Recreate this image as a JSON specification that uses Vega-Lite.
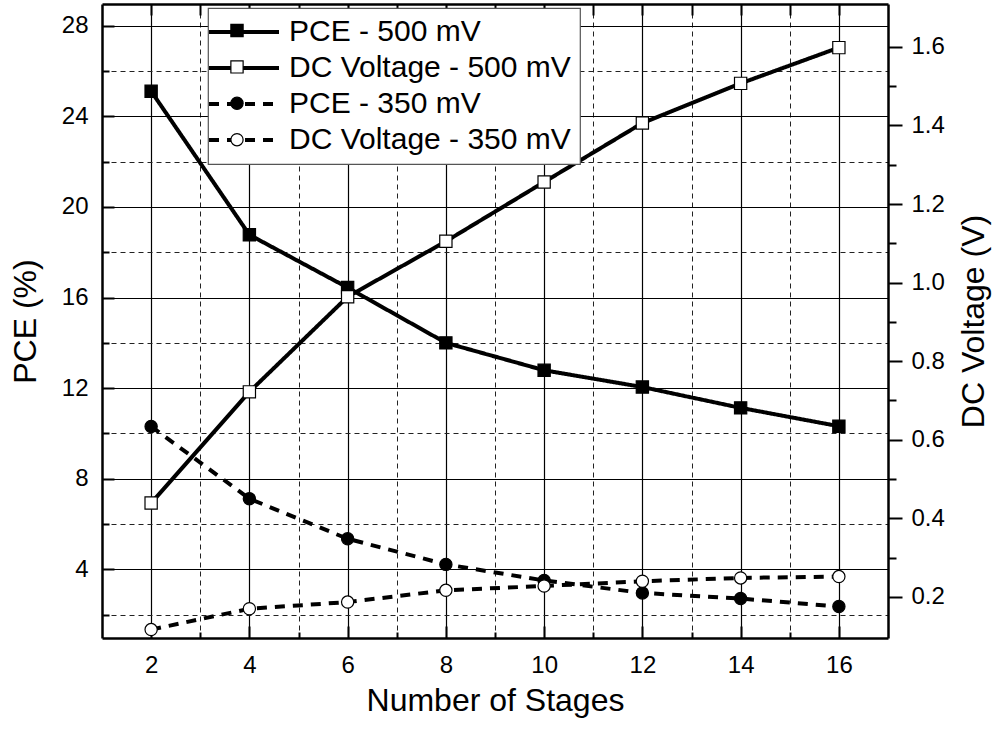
{
  "$schema": "https://vega.github.io/schema/vega-lite/v6.json",
  "width": 786,
  "height": 634,
  "autosize": {"type": "none"},
  "padding": {"left": 102, "top": 4, "right": 107, "bottom": 96},
  "background": "white",
  "config": {
    "view": {"stroke": null},
    "font": "Liberation Sans",
    "axis": {
      "labelFont": "Liberation Sans",
      "labelFontSize": 24,
      "labelColor": "black",
      "titleFont": "Liberation Sans",
      "titleFontSize": 32,
      "titleFontWeight": "normal",
      "titleColor": "black",
      "tickColor": "black",
      "domainColor": "black",
      "domainWidth": 2.5,
      "tickWidth": 2,
      "gridColor": "black",
      "gridWidth": 1.2,
      "gridOpacity": 1
    },
    "legend": {"strokeWidth": 1.2}
  },
  "datasets": {
    "pce": [
      {"stage": 2, "series": "PCE - 500 mV", "pce": 25.11},
      {"stage": 4, "series": "PCE - 500 mV", "pce": 18.77},
      {"stage": 6, "series": "PCE - 500 mV", "pce": 16.44},
      {"stage": 8, "series": "PCE - 500 mV", "pce": 14.0},
      {"stage": 10, "series": "PCE - 500 mV", "pce": 12.79},
      {"stage": 12, "series": "PCE - 500 mV", "pce": 12.05},
      {"stage": 14, "series": "PCE - 500 mV", "pce": 11.13},
      {"stage": 16, "series": "PCE - 500 mV", "pce": 10.32},
      {"stage": 2, "series": "PCE - 350 mV", "pce": 10.31},
      {"stage": 4, "series": "PCE - 350 mV", "pce": 7.12},
      {"stage": 6, "series": "PCE - 350 mV", "pce": 5.35},
      {"stage": 8, "series": "PCE - 350 mV", "pce": 4.22},
      {"stage": 10, "series": "PCE - 350 mV", "pce": 3.51},
      {"stage": 12, "series": "PCE - 350 mV", "pce": 2.96},
      {"stage": 14, "series": "PCE - 350 mV", "pce": 2.71},
      {"stage": 16, "series": "PCE - 350 mV", "pce": 2.36}
    ],
    "dc": [
      {"stage": 2, "series": "DC Voltage - 500 mV", "voltage": 0.439},
      {"stage": 4, "series": "DC Voltage - 500 mV", "voltage": 0.722},
      {"stage": 6, "series": "DC Voltage - 500 mV", "voltage": 0.964},
      {"stage": 8, "series": "DC Voltage - 500 mV", "voltage": 1.105},
      {"stage": 10, "series": "DC Voltage - 500 mV", "voltage": 1.256},
      {"stage": 12, "series": "DC Voltage - 500 mV", "voltage": 1.406},
      {"stage": 14, "series": "DC Voltage - 500 mV", "voltage": 1.507},
      {"stage": 16, "series": "DC Voltage - 500 mV", "voltage": 1.598},
      {"stage": 2, "series": "DC Voltage - 350 mV", "voltage": 0.117},
      {"stage": 4, "series": "DC Voltage - 350 mV", "voltage": 0.17},
      {"stage": 6, "series": "DC Voltage - 350 mV", "voltage": 0.187},
      {"stage": 8, "series": "DC Voltage - 350 mV", "voltage": 0.217},
      {"stage": 10, "series": "DC Voltage - 350 mV", "voltage": 0.228},
      {"stage": 12, "series": "DC Voltage - 350 mV", "voltage": 0.24},
      {"stage": 14, "series": "DC Voltage - 350 mV", "voltage": 0.2485},
      {"stage": 16, "series": "DC Voltage - 350 mV", "voltage": 0.252}
    ]
  },
  "layer": [
    {
      "data": {"name": "pce"},
      "mark": {"type": "line", "color": "black", "strokeWidth": 4},
      "encoding": {
        "x": {
          "field": "stage", "type": "quantitative",
          "scale": {"domain": [1, 17], "nice": false, "zero": false},
          "axis": {
            "orient": "bottom", "title": "Number of Stages",
            "values": [2, 4, 6, 8, 10, 12, 14, 16],
            "grid": true, "tickSize": -12, "labelPadding": 27, "titlePadding": 8,
            "labelFlush": false
          }
        },
        "y": {
          "field": "pce", "type": "quantitative",
          "scale": {"domain": [0.97, 28.96], "nice": false, "zero": false},
          "axis": {
            "orient": "left", "title": "PCE (%)",
            "values": [4, 8, 12, 16, 20, 24, 28],
            "grid": true, "tickSize": -12, "labelPadding": 26, "titlePadding": 19,
            "labelFlush": false
          }
        },
        "detail": {"field": "series"},
        "strokeDash": {
          "field": "series", "type": "nominal",
          "scale": {
            "domain": ["PCE - 500 mV", "DC Voltage - 500 mV", "PCE - 350 mV", "DC Voltage - 350 mV"],
            "range": [[1, 0], [1, 0], [10, 8], [10, 8]]
          },
          "legend": {
            "orient": "none", "legendX": 106, "legendY": 4, "title": null, "zindex": 1,
            "symbolType": "M-11.5,0H23.5", "symbolSize": 16, "symbolStrokeWidth": 4,
            "symbolStrokeColor": "black",
            "labelFont": "Liberation Sans", "labelFontSize": 30, "labelColor": "black",
            "labelLimit": 500, "labelOffset": 42,
            "strokeColor": "#555555", "fillColor": "white",
            "padding": 9, "rowPadding": 6,
            "encode": {
              "symbols": {
                "update": {
                  "strokeDash": {"signal": "indexof(datum.value, '350') >= 0 ? [10, 8] : [1, 0]"},
                  "stroke": {"value": "black"}
                }
              }
            }
          }
        }
      }
    },
    {
      "data": {"name": "dc"},
      "mark": {"type": "line", "color": "black", "strokeWidth": 4},
      "encoding": {
        "x": {
          "field": "stage", "type": "quantitative",
          "scale": {"domain": [1, 17], "nice": false, "zero": false},
          "axis": {
            "orient": "bottom", "title": null,
            "values": [3, 5, 7, 9, 11, 13, 15],
            "grid": true, "gridDash": [5, 4], "gridColor": "#222222", "gridWidth": 1,
            "tickSize": -6, "labels": false, "domain": false
          }
        },
        "y": {
          "field": "voltage", "type": "quantitative",
          "scale": {"domain": [0.0956, 1.709], "nice": false, "zero": false},
          "axis": {
            "orient": "right", "title": "DC Voltage (V)", "titleAngle": 270, "titleBaseline": "top",
            "values": [0.2, 0.4, 0.6, 0.8, 1.0, 1.2, 1.4, 1.6], "format": ".1f",
            "grid": false, "tickSize": 14, "labelPadding": 9, "titlePadding": 14,
            "labelFlush": false
          }
        },
        "detail": {"field": "series"},
        "strokeDash": {
          "field": "series", "type": "nominal",
          "scale": {
            "domain": ["PCE - 500 mV", "DC Voltage - 500 mV", "PCE - 350 mV", "DC Voltage - 350 mV"],
            "range": [[1, 0], [1, 0], [10, 8], [10, 8]]
          },
          "legend": null
        }
      }
    },
    {
      "data": {"name": "pce"},
      "mark": {"type": "point", "filled": true, "size": 150, "strokeWidth": 1.2, "opacity": 1},
      "encoding": {
        "x": {
          "field": "stage", "type": "quantitative",
          "scale": {"domain": [1, 17], "nice": false, "zero": false},
          "axis": {
            "orient": "top", "title": null,
            "values": [2, 3, 4, 5, 6, 7, 8, 9, 10, 11, 12, 13, 14, 15, 16],
            "grid": false, "tickSize": -11, "labels": false, "domain": true
          }
        },
        "y": {
          "field": "pce", "type": "quantitative",
          "scale": {"domain": [0.97, 28.96], "nice": false, "zero": false},
          "axis": {
            "orient": "left", "title": null,
            "values": [2, 6, 10, 14, 18, 22, 26],
            "grid": true, "gridDash": [5, 4], "gridColor": "#222222", "gridWidth": 1,
            "tickSize": -7, "labels": false, "domain": false
          }
        },
        "shape": {
          "field": "series", "type": "nominal",
          "scale": {
            "domain": ["PCE - 350 mV", "DC Voltage - 350 mV", "PCE - 500 mV", "DC Voltage - 500 mV"],
            "range": ["circle", "circle", "square", "square"]
          },
          "legend": {
            "orient": "none", "legendX": 119, "legendY": 10.5, "title": null, "zindex": 2,
            "values": ["PCE - 500 mV", "DC Voltage - 500 mV", "PCE - 350 mV", "DC Voltage - 350 mV"],
            "symbolSize": 150, "symbolStrokeWidth": 1.2,
            "labelExpr": "''", "labelFontSize": 1, "labelOffset": 0,
            "padding": 9, "rowPadding": 18.4, "strokeColor": null, "fillColor": null
          }
        },
        "fill": {
          "field": "series", "type": "nominal",
          "scale": {
            "domain": ["PCE - 350 mV", "DC Voltage - 350 mV", "PCE - 500 mV", "DC Voltage - 500 mV"],
            "range": ["black", "white", "black", "white"]
          },
          "legend": {
            "orient": "none", "legendX": 119, "legendY": 10.5, "title": null, "zindex": 2,
            "values": ["PCE - 500 mV", "DC Voltage - 500 mV", "PCE - 350 mV", "DC Voltage - 350 mV"],
            "symbolSize": 150, "symbolStrokeWidth": 1.2,
            "labelExpr": "''", "labelFontSize": 1, "labelOffset": 0,
            "padding": 9, "rowPadding": 18.4, "strokeColor": null, "fillColor": null
          }
        },
        "stroke": {
          "field": "series", "type": "nominal",
          "scale": {
            "domain": ["PCE - 350 mV", "DC Voltage - 350 mV", "PCE - 500 mV", "DC Voltage - 500 mV"],
            "range": ["black", "black", "black", "black"]
          },
          "legend": {
            "orient": "none", "legendX": 119, "legendY": 10.5, "title": null, "zindex": 2,
            "values": ["PCE - 500 mV", "DC Voltage - 500 mV", "PCE - 350 mV", "DC Voltage - 350 mV"],
            "symbolSize": 150, "symbolStrokeWidth": 1.2,
            "labelExpr": "''", "labelFontSize": 1, "labelOffset": 0,
            "padding": 9, "rowPadding": 18.4, "strokeColor": null, "fillColor": null
          }
        }
      }
    },
    {
      "data": {"name": "dc"},
      "mark": {"type": "point", "filled": true, "size": 150, "strokeWidth": 1.2, "opacity": 1},
      "encoding": {
        "x": {
          "field": "stage", "type": "quantitative",
          "scale": {"domain": [1, 17], "nice": false, "zero": false},
          "axis": null
        },
        "y": {
          "field": "voltage", "type": "quantitative",
          "scale": {"domain": [0.0956, 1.709], "nice": false, "zero": false},
          "axis": {
            "orient": "right", "title": null,
            "values": [0.3, 0.5, 0.7, 0.9, 1.1, 1.3, 1.5],
            "grid": false, "tickSize": 8, "labels": false, "domain": false
          }
        },
        "shape": {
          "field": "series", "type": "nominal",
          "scale": {
            "domain": ["PCE - 350 mV", "DC Voltage - 350 mV", "PCE - 500 mV", "DC Voltage - 500 mV"],
            "range": ["circle", "circle", "square", "square"]
          },
          "legend": null
        },
        "fill": {
          "field": "series", "type": "nominal",
          "scale": {
            "domain": ["PCE - 350 mV", "DC Voltage - 350 mV", "PCE - 500 mV", "DC Voltage - 500 mV"],
            "range": ["black", "white", "black", "white"]
          },
          "legend": null
        },
        "stroke": {
          "field": "series", "type": "nominal",
          "scale": {
            "domain": ["PCE - 350 mV", "DC Voltage - 350 mV", "PCE - 500 mV", "DC Voltage - 500 mV"],
            "range": ["black", "black", "black", "black"]
          },
          "legend": null
        }
      }
    }
  ],
  "resolve": {
    "scale": {"y": "independent"},
    "axis": {"x": "independent", "y": "independent"}
  }
}
